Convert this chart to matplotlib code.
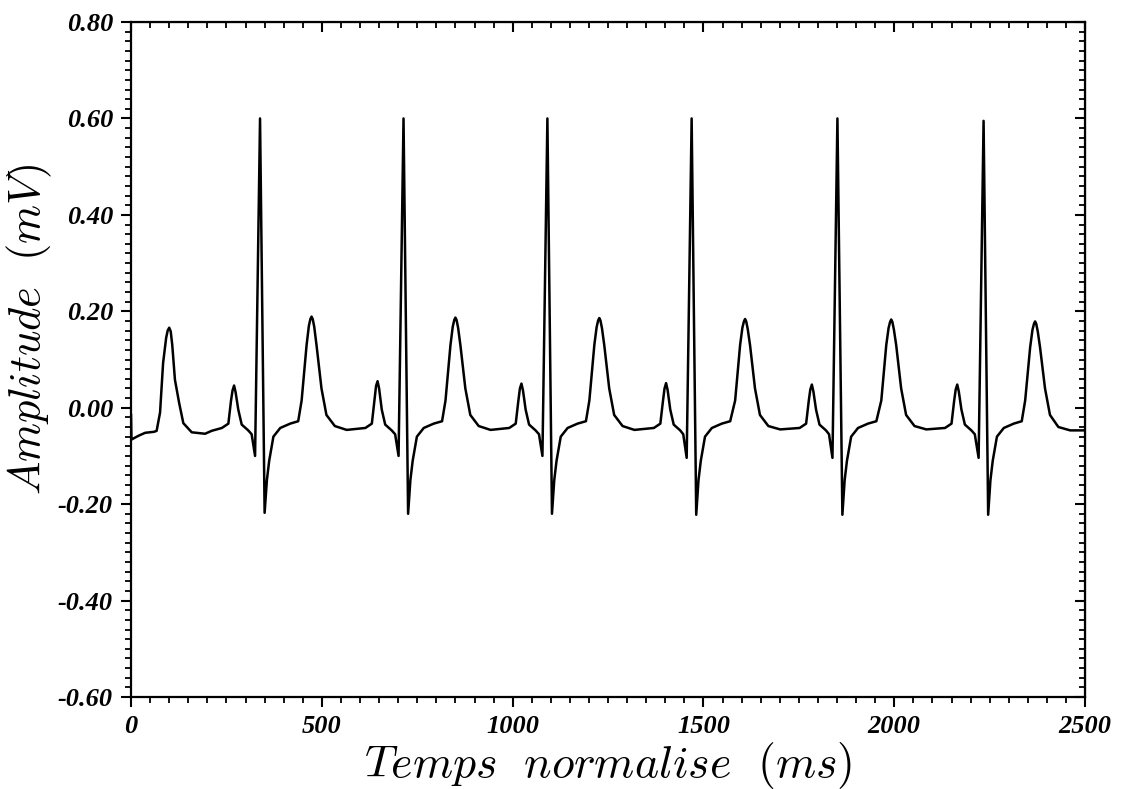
import matplotlib
matplotlib.use('Agg')
import matplotlib.pyplot as plt
from matplotlib.ticker import MultipleLocator, FormatStrFormatter
from matplotlib.font_manager import FontProperties

plt.rcParams['mathtext.fontset'] = 'cm'

# Trace (time in ms, amplitude in mV)
temps = [
    0, 1, 20, 37, 60, 67, 76, 84, 92, 96, 100, 104, 108, 115, 126, 137, 159, 194, 211, 238,
    255, 262, 266, 270, 274, 281, 290, 307, 316, 325, 338, 350, 356, 362, 373, 391, 417, 438,
    447, 460, 466, 470, 473, 476, 480, 486, 499, 512, 534, 565, 614,
    631, 638, 642, 646, 650, 657, 666, 683, 692, 701, 714, 726, 732, 738, 749, 767, 793, 815,
    824, 837, 843, 847, 850, 853, 857, 863, 876, 889, 911, 942, 991,
    1008, 1015, 1019, 1023, 1027, 1034, 1043, 1060, 1069, 1078, 1091, 1103, 1109, 1115, 1126, 1144, 1170, 1192,
    1201, 1214, 1220, 1224, 1227, 1230, 1234, 1240, 1253, 1266, 1288, 1319, 1370,
    1387, 1394, 1398, 1402, 1406, 1413, 1422, 1439, 1447, 1456, 1469, 1481, 1487, 1493, 1504, 1522, 1548, 1570,
    1583, 1596, 1602, 1606, 1609, 1612, 1616, 1622, 1635, 1648, 1670, 1701, 1752,
    1769, 1776, 1780, 1784, 1788, 1795, 1804, 1821, 1829, 1838, 1851, 1864, 1870, 1876, 1887, 1905, 1931, 1953,
    1966, 1979, 1985, 1989, 1992, 1995, 1999, 2005, 2018, 2031, 2053, 2084, 2133,
    2150, 2157, 2161, 2165, 2169, 2176, 2185, 2202, 2211, 2221, 2234, 2246, 2252, 2258, 2269, 2287, 2313, 2334,
    2343, 2356, 2362, 2366, 2369, 2372, 2376, 2382, 2395, 2408, 2430, 2461, 2500,
]
amplitude = [
    -0.015, -0.066, -0.058, -0.052, -0.050, -0.048, -0.010, 0.093, 0.145, 0.160, 0.166, 0.158, 0.130, 0.058, 0.010, -0.032, -0.051, -0.054, -0.048, -0.042,
    -0.033, 0.015, 0.036, 0.046, 0.032, -0.004, -0.035, -0.047, -0.055, -0.100, 0.600, -0.218, -0.150, -0.110, -0.060, -0.042, -0.033, -0.028,
    0.015, 0.130, 0.170, 0.184, 0.189, 0.184, 0.168, 0.130, 0.040, -0.015, -0.038, -0.046, -0.042,
    -0.033, 0.017, 0.045, 0.055, 0.040, -0.004, -0.035, -0.047, -0.055, -0.100, 0.600, -0.220, -0.150, -0.110, -0.060, -0.042, -0.033, -0.028,
    0.015, 0.130, 0.168, 0.182, 0.187, 0.182, 0.166, 0.130, 0.040, -0.015, -0.038, -0.046, -0.042,
    -0.033, 0.015, 0.040, 0.050, 0.036, -0.004, -0.035, -0.047, -0.055, -0.100, 0.600, -0.220, -0.150, -0.110, -0.060, -0.042, -0.033, -0.028,
    0.015, 0.130, 0.167, 0.181, 0.186, 0.181, 0.165, 0.130, 0.040, -0.015, -0.038, -0.046, -0.042,
    -0.033, 0.015, 0.040, 0.051, 0.037, -0.004, -0.035, -0.047, -0.055, -0.104, 0.600, -0.222, -0.150, -0.110, -0.060, -0.042, -0.033, -0.028,
    0.015, 0.130, 0.166, 0.179, 0.184, 0.179, 0.163, 0.130, 0.040, -0.015, -0.038, -0.045, -0.042,
    -0.033, 0.015, 0.038, 0.048, 0.034, -0.004, -0.035, -0.047, -0.055, -0.104, 0.600, -0.222, -0.150, -0.110, -0.060, -0.042, -0.033, -0.028,
    0.015, 0.130, 0.165, 0.178, 0.183, 0.178, 0.162, 0.130, 0.040, -0.015, -0.038, -0.045, -0.042,
    -0.033, 0.015, 0.038, 0.048, 0.034, -0.004, -0.035, -0.047, -0.055, -0.104, 0.595, -0.222, -0.150, -0.110, -0.060, -0.042, -0.033, -0.028,
    0.015, 0.125, 0.161, 0.174, 0.179, 0.174, 0.158, 0.125, 0.040, -0.015, -0.040, -0.047, -0.047,
]

fig = plt.figure(figsize=(11.22, 7.89), dpi=100)
ax = fig.add_axes([0.1168, 0.1166, 0.8503, 0.8555])

ax.plot(temps, amplitude, color='black', lw=1.8)

ax.set_xlim(0, 2500)
ax.set_ylim(-0.6, 0.8)

for s in ax.spines.values():
    s.set_linewidth(1.6)

tickfont = FontProperties(family='Liberation Serif', weight='bold', style='italic', size=19)

# bottom / left: ticks pointing outwards, with labels
ax.xaxis.set_major_locator(MultipleLocator(500))
ax.xaxis.set_minor_locator(MultipleLocator(50))
ax.yaxis.set_major_locator(MultipleLocator(0.2))
ax.yaxis.set_minor_locator(MultipleLocator(0.02))
ax.yaxis.set_major_formatter(FormatStrFormatter('%.2f'))
ax.tick_params(which='major', direction='out', length=7, width=1.5, pad=6)
ax.tick_params(which='minor', direction='out', length=4.5, width=1.3)
for lab in ax.get_xticklabels() + ax.get_yticklabels():
    lab.set_fontproperties(tickfont)

# top / right: ticks pointing inwards, no labels
top = ax.secondary_xaxis('top')
top.xaxis.set_major_locator(MultipleLocator(500))
top.xaxis.set_minor_locator(MultipleLocator(50))
top.tick_params(which='major', direction='in', length=7, width=1.5, labeltop=False)
top.tick_params(which='minor', direction='in', length=4.5, width=1.3)
right = ax.secondary_yaxis('right')
right.yaxis.set_major_locator(MultipleLocator(0.2))
right.yaxis.set_minor_locator(MultipleLocator(0.02))
right.tick_params(which='major', direction='in', length=7, width=1.5, labelright=False)
right.tick_params(which='minor', direction='in', length=4.5, width=1.3)

ax.set_xlabel(r'$Temps\ \ normalise\ \ (ms)$', fontsize=33)
ax.set_ylabel(r'$Amplitude\ \ (mV)$', fontsize=32)
ax.xaxis.set_label_coords(0.5, -0.063)
ax.yaxis.set_label_coords(-0.081, 0.545)

fig.savefig('out.png', dpi=100)
